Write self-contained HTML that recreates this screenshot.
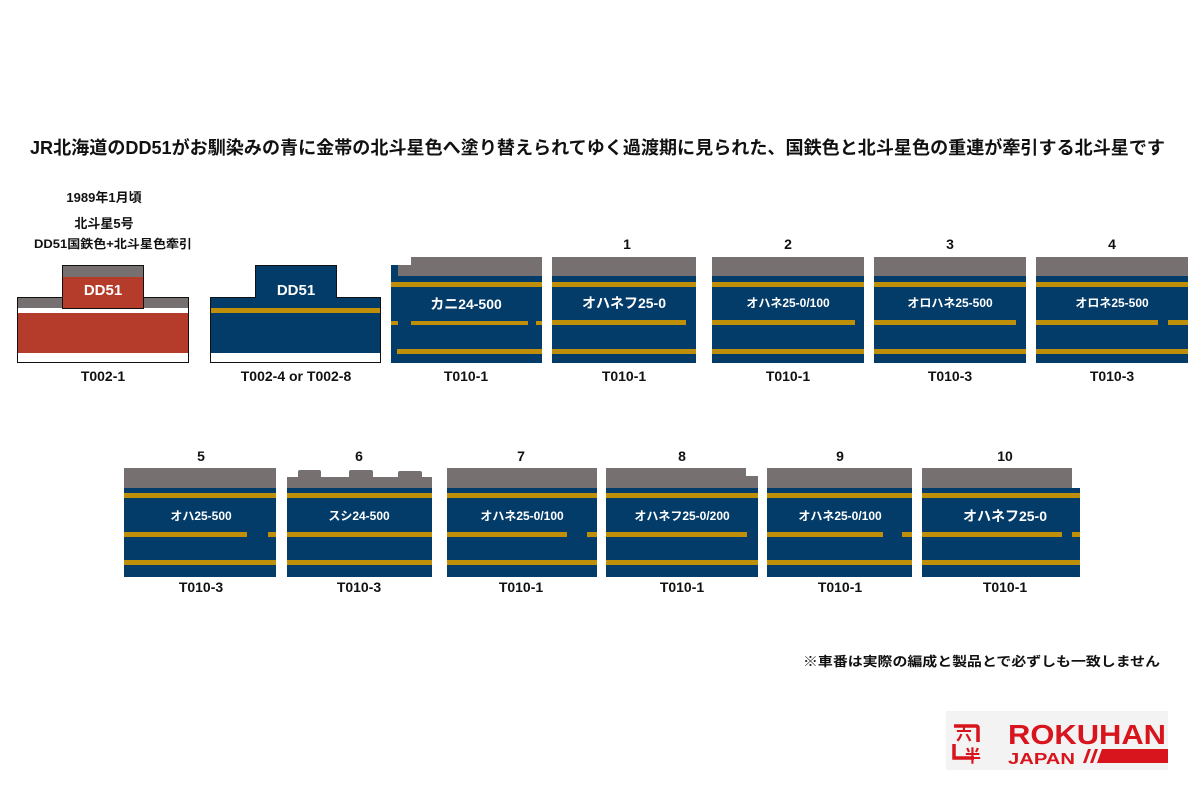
<!DOCTYPE html>
<html><head><meta charset="utf-8"><style>
html,body{margin:0;padding:0;background:#fff;}
svg{display:block;}
text{font-family:"Liberation Sans","Noto Sans CJK JP",sans-serif;font-weight:bold;}
</style></head><body>
<svg width="1200" height="800" viewBox="0 0 1200 800" xmlns="http://www.w3.org/2000/svg">
<rect width="1200" height="800" fill="#fff"/>
<text x="30" y="154" font-size="18" textLength="1135" lengthAdjust="spacingAndGlyphs" fill="#111">JR北海道のDD51がお馴染みの青に金帯の北斗星色へ塗り替えられてゆく過渡期に見られた、国鉄色と北斗星色の重連が牽引する北斗星です</text>
<g font-size="13" fill="#111" text-anchor="middle">
<text x="104" y="202">1989年1月頃</text>
<text x="104" y="228">北斗星5号</text>
<text x="113" y="248" font-size="12" textLength="158" lengthAdjust="spacingAndGlyphs">DD51国鉄色+北斗星色牽引</text>
</g>
<!-- red DD51 -->
<rect x="17.5" y="297.5" width="171" height="65" fill="#fff" stroke="#111" stroke-width="1"/>
<rect x="18" y="298" width="170" height="10" fill="#767170"/>
<rect x="18" y="313" width="170" height="40" fill="#b53c2a"/>
<rect x="62.5" y="265.5" width="81" height="43" fill="#b53c2a" stroke="#111"/>
<rect x="63" y="266" width="80" height="11" fill="#767170"/>
<rect x="63" y="300" width="80" height="8" fill="#b53c2a"/>
<text x="103" y="295" font-size="15" fill="#fff" text-anchor="middle">DD51</text>
<!-- blue DD51 -->
<rect x="210.5" y="297.5" width="170" height="65" fill="#fff" stroke="#111"/>
<rect x="255.5" y="265.5" width="81" height="33" fill="#033c69" stroke="#111"/>
<rect x="211" y="298" width="169" height="55" fill="#033c69"/>
<rect x="256" y="290" width="80" height="10" fill="#033c69"/>
<rect x="211" y="308" width="169" height="5" fill="#c08f0a"/>
<text x="296" y="295" font-size="15" fill="#fff" text-anchor="middle">DD51</text>
<!-- kani -->
<rect x="391" y="265" width="151" height="98" fill="#033c69"/>
<rect x="398" y="265" width="144" height="11" fill="#767170"/>
<rect x="411" y="257" width="131" height="9" fill="#767170"/>
<rect x="391" y="282" width="151" height="5" fill="#c08f0a"/>
<rect x="391" y="321" width="7" height="4" fill="#c08f0a"/>
<rect x="411" y="321" width="117" height="4" fill="#c08f0a"/>
<rect x="536" y="321" width="6" height="4" fill="#c08f0a"/>
<rect x="397" y="349" width="145" height="5" fill="#c08f0a"/>
<text x="466" y="309" font-size="14" fill="#fff" text-anchor="middle">カニ24-500</text>
<!-- row1 cars -->
<g>
<rect x="552" y="257" width="144" height="19" fill="#767170"/><rect x="552" y="276" width="144" height="87" fill="#033c69"/>
<rect x="552" y="282" width="144" height="5" fill="#c08f0a"/><rect x="552" y="320" width="134" height="5" fill="#c08f0a"/><rect x="552" y="349" width="144" height="5" fill="#c08f0a"/>
<text x="624" y="308" font-size="14" fill="#fff" text-anchor="middle">オハネフ25-0</text>
<rect x="712" y="257" width="152" height="19" fill="#767170"/><rect x="712" y="276" width="152" height="87" fill="#033c69"/>
<rect x="712" y="282" width="152" height="5" fill="#c08f0a"/><rect x="712" y="320" width="143" height="5" fill="#c08f0a"/><rect x="712" y="349" width="152" height="5" fill="#c08f0a"/>
<text x="788" y="307" font-size="12" fill="#fff" text-anchor="middle">オハネ25-0/100</text>
<rect x="874" y="257" width="152" height="19" fill="#767170"/><rect x="874" y="276" width="152" height="87" fill="#033c69"/>
<rect x="874" y="282" width="152" height="5" fill="#c08f0a"/><rect x="874" y="320" width="142" height="5" fill="#c08f0a"/><rect x="874" y="349" width="152" height="5" fill="#c08f0a"/>
<text x="950" y="307" font-size="12" fill="#fff" text-anchor="middle">オロハネ25-500</text>
<rect x="1036" y="257" width="152" height="19" fill="#767170"/><rect x="1036" y="276" width="152" height="87" fill="#033c69"/>
<rect x="1036" y="282" width="152" height="5" fill="#c08f0a"/><rect x="1036" y="320" width="122" height="5" fill="#c08f0a"/><rect x="1168" y="320" width="20" height="5" fill="#c08f0a"/><rect x="1036" y="349" width="152" height="5" fill="#c08f0a"/>
<text x="1112" y="307" font-size="12" fill="#fff" text-anchor="middle">オロネ25-500</text>
</g>
<g font-size="14" fill="#111" text-anchor="middle">
<text x="627" y="249">1</text><text x="788" y="249">2</text><text x="950" y="249">3</text><text x="1112" y="249">4</text>
<text x="103" y="381">T002-1</text><text x="296" y="381">T002-4 or T002-8</text><text x="466" y="381">T010-1</text><text x="624" y="381">T010-1</text><text x="788" y="381">T010-1</text><text x="950" y="381">T010-3</text><text x="1112" y="381">T010-3</text>
<text x="201" y="461">5</text><text x="359" y="461">6</text><text x="521" y="461">7</text><text x="682" y="461">8</text><text x="840" y="461">9</text><text x="1005" y="461">10</text>
<text x="201" y="592">T010-3</text><text x="359" y="592">T010-3</text><text x="521" y="592">T010-1</text><text x="682" y="592">T010-1</text><text x="840" y="592">T010-1</text><text x="1005" y="592">T010-1</text>
</g>
<!-- row2 -->
<rect x="124" y="468" width="152" height="20" fill="#767170"/><rect x="124" y="488" width="152" height="89" fill="#033c69"/>
<rect x="124" y="493" width="152" height="5" fill="#c08f0a"/><rect x="124" y="532" width="123" height="5" fill="#c08f0a"/><rect x="268" y="532" width="8" height="5" fill="#c08f0a"/><rect x="124" y="560" width="152" height="5" fill="#c08f0a"/>
<text x="201" y="520" font-size="12" fill="#fff" text-anchor="middle">オハ25-500</text>
<rect x="287" y="477" width="145" height="11" fill="#767170"/>
<rect x="298" y="470" width="23" height="9" rx="2" fill="#767170"/><rect x="349" y="470" width="24" height="9" rx="2" fill="#767170"/><rect x="398" y="471" width="24" height="8" rx="2" fill="#767170"/>
<rect x="287" y="488" width="145" height="89" fill="#033c69"/>
<rect x="287" y="493" width="145" height="5" fill="#c08f0a"/><rect x="287" y="532" width="145" height="5" fill="#c08f0a"/><rect x="287" y="560" width="145" height="5" fill="#c08f0a"/>
<text x="359" y="520" font-size="12" fill="#fff" text-anchor="middle">スシ24-500</text>
<rect x="447" y="468" width="150" height="20" fill="#767170"/><rect x="447" y="488" width="150" height="89" fill="#033c69"/>
<rect x="447" y="493" width="150" height="5" fill="#c08f0a"/><rect x="447" y="532" width="120" height="5" fill="#c08f0a"/><rect x="587" y="532" width="10" height="5" fill="#c08f0a"/><rect x="447" y="560" width="150" height="5" fill="#c08f0a"/>
<text x="522" y="520" font-size="12" fill="#fff" text-anchor="middle">オハネ25-0/100</text>
<rect x="606" y="468" width="140" height="20" fill="#767170"/><rect x="606" y="476" width="152" height="12" fill="#767170"/><rect x="606" y="488" width="152" height="89" fill="#033c69"/>
<rect x="606" y="493" width="152" height="5" fill="#c08f0a"/><rect x="606" y="532" width="141" height="5" fill="#c08f0a"/><rect x="606" y="560" width="152" height="5" fill="#c08f0a"/>
<text x="682" y="520" font-size="12" fill="#fff" text-anchor="middle">オハネフ25-0/200</text>
<rect x="767" y="468" width="145" height="20" fill="#767170"/><rect x="767" y="488" width="145" height="89" fill="#033c69"/>
<rect x="767" y="493" width="145" height="5" fill="#c08f0a"/><rect x="767" y="532" width="116" height="5" fill="#c08f0a"/><rect x="902" y="532" width="10" height="5" fill="#c08f0a"/><rect x="767" y="560" width="145" height="5" fill="#c08f0a"/>
<text x="840" y="520" font-size="12" fill="#fff" text-anchor="middle">オハネ25-0/100</text>
<rect x="922" y="468" width="150" height="20" fill="#767170"/><rect x="922" y="488" width="158" height="89" fill="#033c69"/>
<rect x="922" y="493" width="158" height="5" fill="#c08f0a"/><rect x="922" y="532" width="140" height="5" fill="#c08f0a"/><rect x="1072" y="532" width="8" height="5" fill="#c08f0a"/><rect x="922" y="560" width="158" height="5" fill="#c08f0a"/>
<text x="1005" y="521" font-size="14" fill="#fff" text-anchor="middle">オハネフ25-0</text>
<text x="803" y="666" font-size="13" textLength="357" lengthAdjust="spacingAndGlyphs" fill="#111">※車番は実際の編成と製品とで必ずしも一致しません</text>
<!-- logo -->
<rect x="946" y="711" width="222" height="59" fill="#f3f3f3"/>
<path d="M954 726 L976 726 Q978 726 978 728 L978 742 M954 744 L954 758 L974 758" stroke="#d8141c" stroke-width="3.5" fill="none"/>
<text x="956" y="740" font-size="16" fill="#d8141c" font-family="Noto Sans CJK JP,sans-serif">六</text>
<text x="964" y="762" font-size="17" fill="#d8141c" font-family="Noto Sans CJK JP,sans-serif">半</text>
<text x="1008" y="744" font-size="28" fill="#d8141c" textLength="158" lengthAdjust="spacingAndGlyphs" style="font-family:'Liberation Sans',sans-serif;font-weight:900">ROKUHAN</text>
<text x="1008" y="764" font-size="16" fill="#d8141c" textLength="67" lengthAdjust="spacingAndGlyphs">JAPAN</text>
<path d="M1083 763 L1088 749 L1091 749 L1086 763Z M1090 763 L1095 749 L1098 749 L1093 763Z M1097 763 L1102 749 L1168 749 L1168 763Z" fill="#d8141c"/>
</svg>
</body></html>
